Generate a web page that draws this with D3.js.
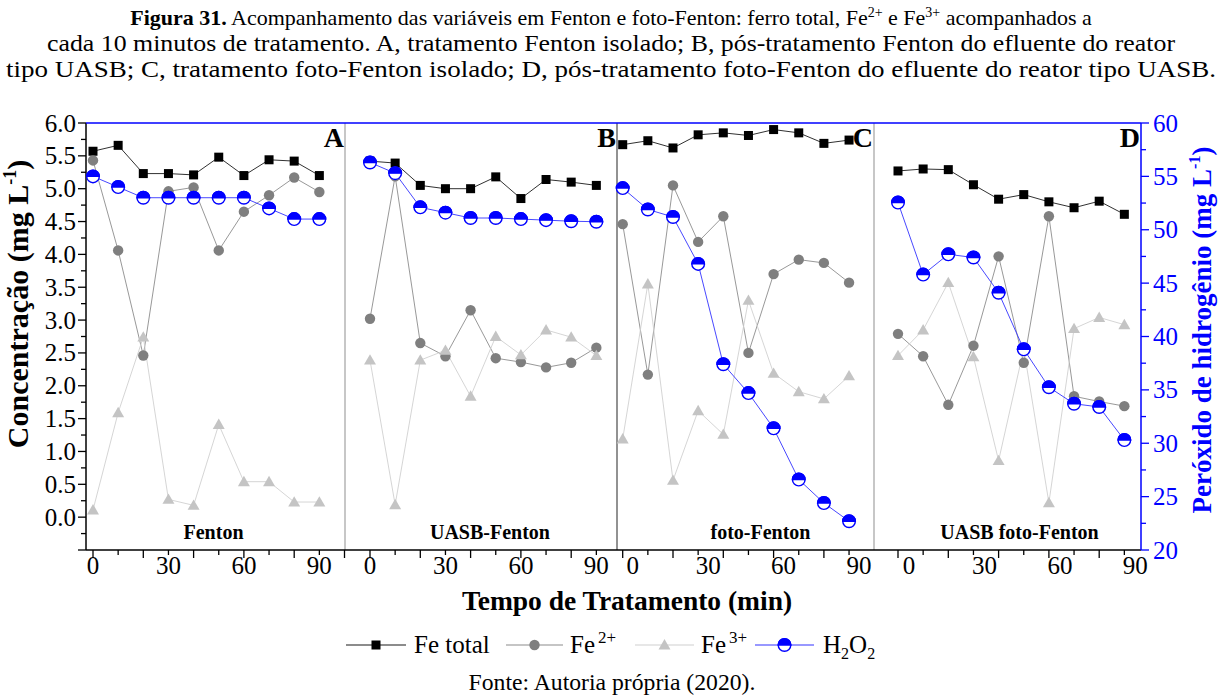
<!DOCTYPE html>
<html>
<head>
<meta charset="utf-8">
<script src="https://cdn.jsdelivr.net/npm/d3@7"></script>
<style>
  body { margin: 0; background: #fff; }
  svg { display: block; }
  svg text { font-family: "Liberation Serif", "Times New Roman", Times, serif; }
</style>
</head>
<body>
<svg id="chart" width="1222" height="698"></svg>
<script>
// Sampling times (min) shared by every run
const times = [0, 10, 20, 30, 40, 50, 60, 70, 80, 90];

// Run letters and names (A: Fenton, B: UASB-Fenton, C: foto-Fenton, D: UASB foto-Fenton)
const panelLetters = ["A", "B", "C", "D"];
const panelNames = ["Fenton", "UASB-Fenton", "foto-Fenton", "UASB foto-Fenton"];

// Total iron (mg L-1), one row per run
const feTotal = [
  [5.57, 5.66, 5.23, 5.23, 5.21, 5.48, 5.20, 5.44, 5.42, 5.20],
  [5.42, 5.39, 5.05, 5.00, 5.00, 5.18, 4.85, 5.14, 5.10, 5.05],
  [5.67, 5.73, 5.62, 5.82, 5.85, 5.81, 5.90, 5.85, 5.69, 5.74],
  [5.27, 5.30, 5.29, 5.06, 4.84, 4.91, 4.80, 4.71, 4.81, 4.61]
];

// Fe2+ (mg L-1)
const fe2 = [
  [5.43, 4.06, 2.46, 4.96, 5.02, 4.06, 4.65, 4.90, 5.17, 4.95],
  [3.02, 5.19, 2.65, 2.45, 3.15, 2.42, 2.36, 2.28, 2.35, 2.58],
  [4.46, 2.17, 5.05, 4.19, 4.58, 2.50, 3.70, 3.92, 3.87, 3.57],
  [2.79, 2.45, 1.71, 2.61, 3.97, 2.35, 4.58, 1.84, 1.76, 1.69]
];

// Fe3+ (mg L-1)
const fe3 = [
  [0.11, 1.59, 2.74, 0.27, 0.18, 1.41, 0.54, 0.54, 0.23, 0.23],
  [2.39, 0.19, 2.39, 2.54, 1.84, 2.75, 2.47, 2.85, 2.74, 2.46],
  [1.19, 3.55, 0.56, 1.62, 1.26, 3.30, 2.19, 1.91, 1.80, 2.15],
  [2.46, 2.85, 3.57, 2.44, 0.86, 2.56, 0.22, 2.87, 3.04, 2.93]
];

// Hydrogen peroxide (mg L-1), right axis
const h2o2 = [
  [55.0, 54.0, 53.0, 53.0, 53.0, 53.0, 53.0, 52.0, 51.0, 51.0],
  [56.3, 55.3, 52.1, 51.6, 51.1, 51.1, 51.0, 50.9, 50.8, 50.75],
  [53.9, 51.9, 51.2, 46.8, 37.4, 34.7, 31.4, 26.6, 24.4, 22.7],
  [52.55, 45.8, 47.7, 47.4, 44.1, 38.8, 35.25, 33.7, 33.4, 30.3]
];

// Axis ticks and labels
const xTickValues = [0, 10, 20, 30, 40, 50, 60, 70, 80, 90, 100];
const xTickLabels = [0, 30, 60, 90];
const yLeftTicks = d3.range(-0.5, 6.001, 0.25);
const yLeftLabels = [0, 0.5, 1, 1.5, 2, 2.5, 3, 3.5, 4, 4.5, 5, 5.5, 6];
const yRightTicks = d3.range(20, 60.001, 2.5);
const yRightLabels = [20, 25, 30, 35, 40, 45, 50, 55, 60];

// ---------- layout ----------
const svg = d3.select("#chart");
const plotTop = 123, plotBottom = 550;
const edges = [86, 345, 617, 874, 1141];        // panel boundaries
const zeroX = [93, 370, 622.7, 898];            // where t = 0 falls in each panel
const pxPerMin = 2.515;
const labelShift = [0, 0, 10, 11];              // tick-label offset per panel
const BLUE = "#0000ff";

const yL = d3.scaleLinear().domain([-0.5, 6.0]).range([plotBottom, plotTop]);
const yR = d3.scaleLinear().domain([20, 60]).range([plotBottom, plotTop]);

const xScales = zeroX.map((z, i) =>
  d3.scaleLinear()
    .domain([(edges[i] - z) / pxPerMin, (edges[i + 1] - z) / pxPerMin])
    .range([edges[i], edges[i + 1]])
);

// ---------- caption (three centred lines) ----------
const c1 = svg.append("text")
  .attr("x", 611).attr("y", 25)
  .attr("text-anchor", "middle").attr("font-size", 22);
c1.append("tspan").attr("font-weight", "bold").text("Figura 31.");
c1.append("tspan").text(" Acompanhamento das variáveis em Fenton e foto-Fenton: ferro total, Fe");
c1.append("tspan").attr("font-size", 14).attr("dy", -8).text("2+");
c1.append("tspan").attr("dy", 8).text(" e Fe");
c1.append("tspan").attr("font-size", 14).attr("dy", -8).text("3+");
c1.append("tspan").attr("dy", 8).text(" acompanhados a");

function captionLine(y, width) {
  return svg.append("text")
    .attr("x", 611).attr("y", y)
    .attr("text-anchor", "middle").attr("font-size", 23)
    .attr("textLength", width).attr("lengthAdjust", "spacingAndGlyphs");
}
captionLine(51, 1128)
  .text("cada 10 minutos de tratamento. A, tratamento Fenton isolado; B, pós-tratamento Fenton do efluente do reator");
captionLine(77, 1210)
  .text("tipo UASB; C, tratamento foto-Fenton isolado; D, pós-tratamento foto-Fenton do efluente do reator tipo UASB.");

// ---------- panel separators ----------
const sepColors = ["#b4b4b4", "#6e6e6e", "#b4b4b4"];
[1, 2, 3].forEach((k, j) => {
  svg.append("line")
    .attr("x1", edges[k]).attr("x2", edges[k])
    .attr("y1", plotTop).attr("y2", plotBottom)
    .attr("stroke", sepColors[j]).attr("stroke-width", 1.5);
});

// ---------- bottom axes (one per panel) ----------
xScales.forEach((x, i) => {
  const [d0, d1] = x.domain();
  const vals = xTickValues.filter(t => t >= d0 - 0.01 && t <= d1 + 0.01);
  const g = svg.append("g").attr("transform", `translate(0,${plotBottom})`);
  g.selectAll("line").data(vals).join("line")
    .attr("x1", d => x(d)).attr("x2", d => x(d))
    .attr("y1", 0).attr("y2", d => (d % 20 === 0 ? 8 : 5))
    .attr("stroke", "#000").attr("stroke-width", 1.3);
  g.selectAll("text").data(xTickLabels).join("text")
    .attr("x", d => x(d) + labelShift[i]).attr("y", 24)
    .attr("text-anchor", "middle").attr("font-size", 25)
    .text(d => d);
});
svg.append("line")
  .attr("x1", edges[0]).attr("x2", edges[4])
  .attr("y1", plotBottom).attr("y2", plotBottom)
  .attr("stroke", "#000").attr("stroke-width", 1.5);

// ---------- left axis ----------
const gL = svg.append("g").attr("transform", `translate(${edges[0]},0)`);
gL.selectAll("line").data(yLeftTicks).join("line")
  .attr("x1", 0).attr("y1", d => yL(d)).attr("y2", d => yL(d))
  .attr("x2", d => (Math.abs(d * 2 - Math.round(d * 2)) < 1e-6 ? -8 : -5))
  .attr("stroke", "#000").attr("stroke-width", 1.3);
gL.selectAll("text").data(yLeftLabels).join("text")
  .attr("x", -10).attr("y", d => yL(d)).attr("dy", "0.34em")
  .attr("text-anchor", "end").attr("font-size", 25)
  .text(d => d3.format(".1f")(d));
gL.append("line").attr("y1", plotTop).attr("y2", plotBottom)
  .attr("stroke", "#000").attr("stroke-width", 1.5);

// ---------- right axis ----------
const gR = svg.append("g").attr("transform", `translate(${edges[4]},0)`);
gR.selectAll("line").data(yRightTicks).join("line")
  .attr("x1", 0).attr("y1", d => yR(d)).attr("y2", d => yR(d))
  .attr("x2", d => (d % 5 === 0 ? 8 : 5))
  .attr("stroke", BLUE).attr("stroke-width", 1.3);
gR.selectAll("text").data(yRightLabels).join("text")
  .attr("x", 12).attr("y", d => yR(d)).attr("dy", "0.34em")
  .attr("text-anchor", "start").attr("font-size", 25).attr("fill", BLUE)
  .text(d => d);
gR.append("line").attr("y1", plotTop).attr("y2", plotBottom)
  .attr("stroke", BLUE).attr("stroke-width", 1.5);

// top border
svg.append("line")
  .attr("x1", edges[0]).attr("x2", edges[4])
  .attr("y1", plotTop).attr("y2", plotTop)
  .attr("stroke", BLUE).attr("stroke-width", 1.5);

// ---------- axis titles ----------
const tL = svg.append("text")
  .attr("transform", "translate(28,304) rotate(-90)")
  .attr("text-anchor", "middle").attr("font-weight", "bold").attr("font-size", 30);
tL.append("tspan").text("Concentração (mg L");
tL.append("tspan").attr("font-size", 18).attr("dy", -12).text("-1");
tL.append("tspan").attr("dy", 12).text(")");

const tR = svg.append("text")
  .attr("transform", "translate(1211,330) rotate(-90)")
  .attr("text-anchor", "middle").attr("font-weight", "bold").attr("font-size", 27)
  .attr("fill", BLUE);
tR.append("tspan").text("Peróxido de hidrogênio (mg L");
tR.append("tspan").attr("font-size", 16).attr("dy", -11).text("-1");
tR.append("tspan").attr("dy", 11).text(")");

svg.append("text")
  .attr("x", 627).attr("y", 610)
  .attr("text-anchor", "middle").attr("font-weight", "bold").attr("font-size", 27.5)
  .text("Tempo de Tratamento (min)");

// ---------- markers ----------
function drawSquare(g, cx, cy) {
  g.append("rect").attr("x", cx - 4.5).attr("y", cy - 4.5)
    .attr("width", 9).attr("height", 9).attr("fill", "#000");
}
function drawCircle(g, cx, cy) {
  g.append("circle").attr("cx", cx).attr("cy", cy).attr("r", 5.2).attr("fill", "#7f7f7f");
}
const triPath = d3.symbol().type(d3.symbolTriangle).size(62)();
function drawTriangle(g, cx, cy) {
  g.append("path").attr("d", triPath)
    .attr("transform", `translate(${cx},${cy + 1})`).attr("fill", "#c4c4c4");
}
function drawHalf(g, cx, cy) {
  const r = 6.3;
  g.append("circle").attr("cx", cx).attr("cy", cy).attr("r", r)
    .attr("fill", "#fff").attr("stroke", BLUE).attr("stroke-width", 1.4);
  g.append("path")
    .attr("d", `M${cx - r},${cy} A${r},${r} 0 0 1 ${cx + r},${cy} Z`)
    .attr("fill", BLUE).attr("stroke", BLUE).attr("stroke-width", 1.4);
}

const series = [
  { data: feTotal, y: yL, color: "#1a1a1a", draw: drawSquare },
  { data: fe2, y: yL, color: "#8c8c8c", draw: drawCircle },
  { data: fe3, y: yL, color: "#d0d0d0", draw: drawTriangle },
  { data: h2o2, y: yR, color: "#3333ff", draw: drawHalf }
];

// ---------- panels ----------
const nameOffset = [-2, 9, 15, 12];
xScales.forEach((x, i) => {
  const g = svg.append("g");
  series.forEach(s => {
    const pts = times.map((t, j) => [x(t), s.y(s.data[i][j])]);
    g.append("path")
      .attr("d", d3.line()(pts))
      .attr("fill", "none").attr("stroke", s.color).attr("stroke-width", 0.9);
  });
  series.forEach(s => {
    times.forEach((t, j) => s.draw(g, x(t), s.y(s.data[i][j])));
  });

  svg.append("text")
    .attr("x", edges[i + 1] - 1).attr("y", 147)
    .attr("text-anchor", "end").attr("font-weight", "bold").attr("font-size", 28)
    .text(panelLetters[i]);

  svg.append("text")
    .attr("x", (edges[i] + edges[i + 1]) / 2 + nameOffset[i]).attr("y", 539)
    .attr("text-anchor", "middle").attr("font-weight", "bold").attr("font-size", 20)
    .text(panelNames[i]);
});

// ---------- legend ----------
const legendY = 645;
const legendItems = [
  { x1: 346, x2: 406, label: "Fe total", sup: null, tx: 414 },
  { x1: 506, x2: 563, label: "Fe", sup: "2+", tx: 570 },
  { x1: 635, x2: 694, label: "Fe", sup: "3+", tx: 701 },
  { x1: 755, x2: 814, label: "H", sup: null, tx: 823 }
];
legendItems.forEach((it, k) => {
  const s = series[k];
  svg.append("line").attr("x1", it.x1).attr("x2", it.x2)
    .attr("y1", legendY).attr("y2", legendY)
    .attr("stroke", s.color).attr("stroke-width", 1.2);
  s.draw(svg, (it.x1 + it.x2) / 2, legendY);
  const t = svg.append("text").attr("x", it.tx).attr("y", legendY + 8).attr("font-size", 25);
  if (k === 3) {
    t.append("tspan").text("H");
    t.append("tspan").attr("font-size", 16).attr("dy", 6).text("2");
    t.append("tspan").attr("dy", -6).text("O");
    t.append("tspan").attr("font-size", 16).attr("dy", 6).text("2");
  } else {
    t.append("tspan").text(it.label);
    if (it.sup) t.append("tspan").attr("font-size", 17).attr("dx", 3).attr("dy", -10).text(it.sup);
  }
});

// ---------- source ----------
svg.append("text")
  .attr("x", 612).attr("y", 690)
  .attr("text-anchor", "middle").attr("font-size", 23.7)
  .text("Fonte: Autoria própria (2020).");
</script>
</body>
</html>
